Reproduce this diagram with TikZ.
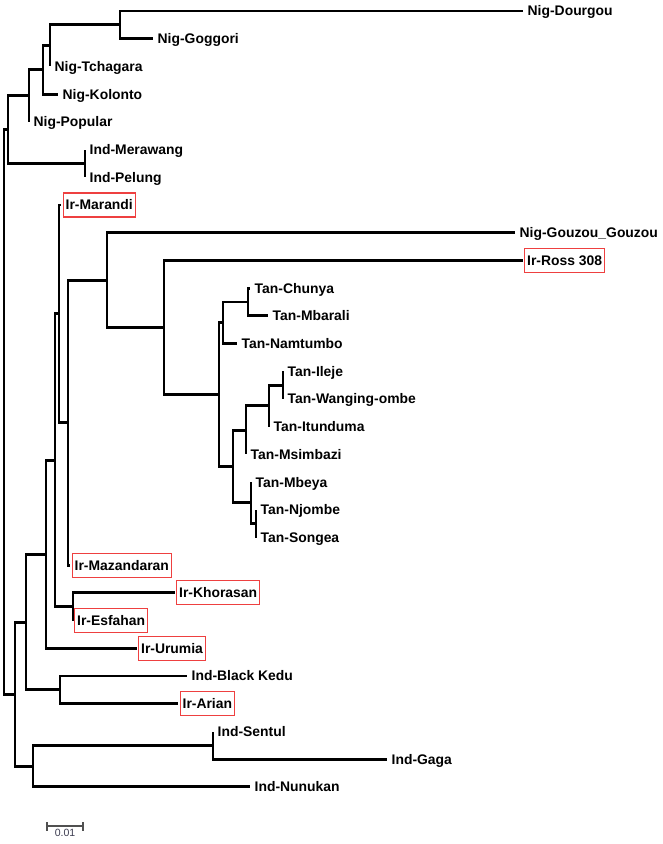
\documentclass[tikz,border=0pt]{standalone}
\usepackage{fontspec}
\setmainfont{Liberation Sans}
\definecolor{boxred}{RGB}{238,64,64}
\definecolor{scalegray}{RGB}{80,80,80}
\definecolor{scaletext}{RGB}{60,60,80}
\tikzset{
  br/.style={line width=2.9pt, line cap=butt, line join=miter, black},
  lab/.style={anchor=west, inner xsep=2pt, inner ysep=0pt, text height=9.9pt, text depth=0pt,
    font=\fontsize{13.9}{16}\selectfont\bfseries},
  boxlab/.style={lab, inner xsep=2.6pt, draw=boxred, line width=1.1pt, minimum height=24pt},
  scalebar/.style={line width=1.2pt, scalegray}
}
\begin{document}
\begin{tikzpicture}[x=1pt,y=-1pt]
\useasboundingbox (0,0) rectangle (662,844);
% ---------- internal nodes ----------
\coordinate (root) at (4,411.9);
\coordinate (nA) at (8,129.65);
\coordinate (nNig) at (29,95.85);
\coordinate (nK) at (43,69.9);
\coordinate (nT) at (50,45.6);
\coordinate (nDG) at (120,24.85);
\coordinate (nInd1) at (85,163.45);
\coordinate (nB) at (15,694.1);
\coordinate (nIr2) at (26,622.1);
\coordinate (nUru) at (46,554.3);
\coordinate (nIr1) at (55,460.3);
\coordinate (nMar) at (59,313.8);
\coordinate (nMaz) at (68,422.65);
\coordinate (nGou) at (107,280.1);
\coordinate (nRoss) at (164,327.5);
\coordinate (nTan) at (219,394.6);
\coordinate (nCMN) at (223,322.7);
\coordinate (nCM) at (248,301.95);
\coordinate (nT2) at (233,466.5);
\coordinate (nIWIM) at (246,430.15);
\coordinate (nIWI) at (269,405.9);
\coordinate (nIW) at (283,385.05);
\coordinate (nMNS) at (251,502.9);
\coordinate (nNS) at (256,523.65);
\coordinate (nKE) at (73,606.75);
\coordinate (nBA) at (60,689.9);
\coordinate (nNun) at (33,766.1);
\coordinate (nSG) at (213,745.35);
% ---------- leaf ends ----------
\coordinate (lDourgou) at (523,11.0);
\coordinate (lGoggori) at (153,38.7);
\coordinate (lTchagara) at (50,66.4);
\coordinate (lKolonto) at (58,94.1);
\coordinate (lPopular) at (29,121.8);
\coordinate (lMerawang) at (85,149.6);
\coordinate (lPelung) at (85,177.3);
\coordinate (lMarandi) at (61,205.0);
\coordinate (lGouzou) at (515,232.7);
\coordinate (lRoss) at (523,260.4);
\coordinate (lChunya) at (250,288.1);
\coordinate (lMbarali) at (268,315.8);
\coordinate (lNamtumbo) at (237,343.5);
\coordinate (lIleje) at (283,371.2);
\coordinate (lWanging) at (283,398.9);
\coordinate (lItunduma) at (269,426.7);
\coordinate (lMsimbazi) at (246,454.4);
\coordinate (lMbeya) at (251,482.1);
\coordinate (lNjombe) at (256,509.8);
\coordinate (lSongea) at (256,537.5);
\coordinate (lMazandaran) at (70,565.2);
\coordinate (lKhorasan) at (175,592.9);
\coordinate (lEsfahan) at (73,620.6);
\coordinate (lUrumia) at (137,648.3);
\coordinate (lBlackKedu) at (187,676.0);
\coordinate (lArian) at (178,703.8);
\coordinate (lSentul) at (213,731.5);
\coordinate (lGaga) at (387,759.2);
\coordinate (lNunukan) at (250,786.9);
% ---------- branches ----------
\draw[br] (root) |- (nA);
\draw[br] (root) |- (nB);
\draw[br] (nA) |- (nNig);
\draw[br] (nA) |- (nInd1);
\draw[br] (nNig) |- (nK);
\draw[br] (nNig) |- (lPopular);
\draw[br] (nK) |- (nT);
\draw[br] (nK) |- (lKolonto);
\draw[br] (nT) |- (nDG);
\draw[br] (nT) |- (lTchagara);
\draw[br] (nDG) |- (lDourgou);
\draw[br] (nDG) |- (lGoggori);
\draw[br] (nInd1) |- (lMerawang);
\draw[br] (nInd1) |- (lPelung);
\draw[br] (nB) |- (nIr2);
\draw[br] (nB) |- (nNun);
\draw[br] (nIr2) |- (nUru);
\draw[br] (nIr2) |- (nBA);
\draw[br] (nUru) |- (nIr1);
\draw[br] (nUru) |- (lUrumia);
\draw[br] (nIr1) |- (nMar);
\draw[br] (nIr1) |- (nKE);
\draw[br] (nMar) |- (lMarandi);
\draw[br] (nMar) |- (nMaz);
\draw[br] (nMaz) |- (nGou);
\draw[br] (nMaz) |- (lMazandaran);
\draw[br] (nGou) |- (lGouzou);
\draw[br] (nGou) |- (nRoss);
\draw[br] (nRoss) |- (lRoss);
\draw[br] (nRoss) |- (nTan);
\draw[br] (nTan) |- (nCMN);
\draw[br] (nTan) |- (nT2);
\draw[br] (nCMN) |- (nCM);
\draw[br] (nCMN) |- (lNamtumbo);
\draw[br] (nCM) |- (lChunya);
\draw[br] (nCM) |- (lMbarali);
\draw[br] (nT2) |- (nIWIM);
\draw[br] (nT2) |- (nMNS);
\draw[br] (nIWIM) |- (nIWI);
\draw[br] (nIWIM) |- (lMsimbazi);
\draw[br] (nIWI) |- (nIW);
\draw[br] (nIWI) |- (lItunduma);
\draw[br] (nIW) |- (lIleje);
\draw[br] (nIW) |- (lWanging);
\draw[br] (nMNS) |- (lMbeya);
\draw[br] (nMNS) |- (nNS);
\draw[br] (nNS) |- (lNjombe);
\draw[br] (nNS) |- (lSongea);
\draw[br] (nKE) |- (lKhorasan);
\draw[br] (nKE) |- (lEsfahan);
\draw[br] (nBA) |- (lBlackKedu);
\draw[br] (nBA) |- (lArian);
\draw[br] (nNun) |- (nSG);
\draw[br] (nNun) |- (lNunukan);
\draw[br] (nSG) |- (lSentul);
\draw[br] (nSG) |- (lGaga);
% ---------- labels ----------
\node[lab] (tDourgou) at ([xshift=2.5pt]lDourgou) {Nig-Dourgou};
\node[lab] (tGoggori) at ([xshift=2.5pt]lGoggori) {Nig-Goggori};
\node[lab] (tTchagara) at ([xshift=2.5pt]lTchagara) {Nig-Tchagara};
\node[lab] (tKolonto) at ([xshift=2.5pt]lKolonto) {Nig-Kolonto};
\node[lab] (tPopular) at ([xshift=2.5pt]lPopular) {Nig-Popular};
\node[lab] (tMerawang) at ([xshift=2.5pt]lMerawang) {Ind-Merawang};
\node[lab] (tPelung) at ([xshift=2.5pt]lPelung) {Ind-Pelung};
\node[boxlab] (tMarandi) at ([xshift=1.5pt]lMarandi) {Ir-Marandi};
\node[lab] (tGouzou) at ([xshift=2.5pt]lGouzou) {Nig-Gouzou\_Gouzou};
\node[boxlab] (tRoss) at ([xshift=1pt]lRoss) {Ir-Ross 308};
\node[lab] (tChunya) at ([xshift=2.5pt]lChunya) {Tan-Chunya};
\node[lab] (tMbarali) at ([xshift=2.5pt]lMbarali) {Tan-Mbarali};
\node[lab] (tNamtumbo) at ([xshift=2.5pt]lNamtumbo) {Tan-Namtumbo};
\node[lab] (tIleje) at ([xshift=2.5pt]lIleje) {Tan-Ileje};
\node[lab] (tWanging) at ([xshift=2.5pt]lWanging) {Tan-Wanging-ombe};
\node[lab] (tItunduma) at ([xshift=2.5pt]lItunduma) {Tan-Itunduma};
\node[lab] (tMsimbazi) at ([xshift=2.5pt]lMsimbazi) {Tan-Msimbazi};
\node[lab] (tMbeya) at ([xshift=2.5pt]lMbeya) {Tan-Mbeya};
\node[lab] (tNjombe) at ([xshift=2.5pt]lNjombe) {Tan-Njombe};
\node[lab] (tSongea) at ([xshift=2.5pt]lSongea) {Tan-Songea};
\node[boxlab] (tMazandaran) at ([xshift=1.5pt]lMazandaran) {Ir-Mazandaran};
\node[boxlab] (tKhorasan) at ([xshift=1pt]lKhorasan) {Ir-Khorasan};
\node[boxlab] (tEsfahan) at ([xshift=1pt]lEsfahan) {Ir-Esfahan};
\node[boxlab] (tUrumia) at ([xshift=1pt]lUrumia) {Ir-Urumia};
\node[lab] (tBlackKedu) at ([xshift=2.5pt]lBlackKedu) {Ind-Black Kedu};
\node[boxlab] (tArian) at ([xshift=1.5pt]lArian) {Ir-Arian};
\node[lab] (tSentul) at ([xshift=2.5pt]lSentul) {Ind-Sentul};
\node[lab] (tGaga) at ([xshift=2.5pt]lGaga) {Ind-Gaga};
\node[lab] (tNunukan) at ([xshift=2.5pt]lNunukan) {Ind-Nunukan};
% ---------- scale bar ----------
\coordinate (sL) at (47,826);
\coordinate (sR) at (83,826);
\draw[scalebar] (sL) -- (sR);
\draw[scalebar] ([yshift=-4.5pt]sL) -- ([yshift=4.5pt]sL);
\draw[scalebar] ([yshift=-4.5pt]sR) -- ([yshift=4.5pt]sR);
\node[anchor=north, inner sep=0pt, text=scaletext, font=\fontsize{10.5}{12}\selectfont] (sLab) at (65,829) {0.01};
\end{tikzpicture}
\end{document}
